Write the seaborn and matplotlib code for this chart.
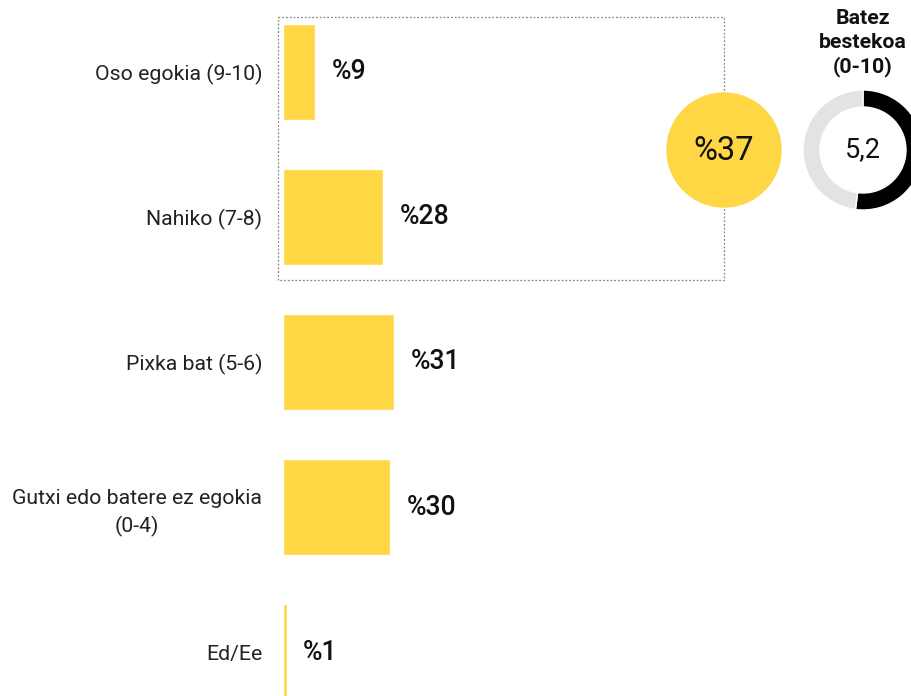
import matplotlib
matplotlib.use("Agg")
import matplotlib.pyplot as plt
from matplotlib.patches import Rectangle, Circle
import seaborn as sns

sns.set_theme(style="white")
plt.rcParams['font.family'] = ['Roboto', 'DejaVu Sans']

# data
categories = ["Oso egokia (9-10)", "Nahiko (7-8)", "Pixka bat (5-6)",
              "Gutxi edo batere ez egokia\n(0-4)", "Ed/Ee"]
values = [9, 28, 31, 30, 1]
value_labels = ["%9", "%28", "%31", "%30", "%1"]
group_label = "%37"          # Oso egokia + Nahiko
mean_score = 5.2
mean_max = 10
mean_label = "5,2"
mean_title = "Batez\nbestekoa\n(0-10)"

yellow = "#FFD643"
W, H = 912, 696

fig = plt.figure(figsize=(W / 100, H / 100), dpi=100)

# main bar axes, placed in pixel terms
x0, x1 = 283, 912
y_top, y_bot = 24, 700
ax = fig.add_axes([x0 / W, 1 - y_bot / H, (x1 - x0) / W, (y_bot - y_top) / H])
sns.barplot(x=values, y=categories, orient="h", color=yellow, saturation=1,
            width=0.66, ax=ax)
ax.set_xlim(0, (x1 - x0) / 3.57)
ax.set_ylim(4.33, -0.33)
for s in ax.spines.values():
    s.set_visible(False)
ax.set_xticks([])
ax.tick_params(axis="y", length=0, pad=15, labelsize=15.3, labelcolor="#222222")
for lab in ax.get_yticklabels():
    lab.set_multialignment("center")
    lab.set_linespacing(1.45)
ax.set_xlabel("")
ax.set_ylabel("")

for i, (v, t) in enumerate(zip(values, value_labels)):
    ax.annotate(t, xy=(v, i), xytext=(12, 0), textcoords="offset points",
                ha="left", va="center", fontsize=19.2, fontweight="medium",
                color="#111111")

# overlay in pixel coordinates for the group box and circle
ov = fig.add_axes([0, 0, 1, 1], zorder=3)
ov.set_xlim(0, W)
ov.set_ylim(H, 0)
ov.axis("off")
ov.patch.set_alpha(0)
ov.add_patch(Rectangle((278, 17), 724 - 278, 280 - 17, fill=False,
                       edgecolor="#888888", linestyle=(0, (1.5, 1.5)), lw=0.9))
ov.add_patch(Circle((724, 150), 57, color=yellow, zorder=4))
ov.text(724, 151, group_label, ha="center", va="center", fontsize=23.5,
        color="#111111", zorder=5)
ov.text(863, 9, mean_title, ha="center", va="top", fontsize=15.3,
        fontweight="bold", linespacing=1.3, color="#111111")

# donut for the mean score
dax = fig.add_axes([803 / W, 1 - 210 / H, 120 / W, 120 / H])
dax.pie([mean_score, mean_max - mean_score], startangle=90, counterclock=False,
        colors=["#000000", "#E3E3E3"], wedgeprops=dict(width=17 / 60))
dax.set_xlim(-1, 1)
dax.set_ylim(-1, 1)
dax.set_aspect("equal")
dax.text(0, 0, mean_label, ha="center", va="center", fontsize=19.5, color="#111111")

fig.savefig("out.png", dpi=100)
